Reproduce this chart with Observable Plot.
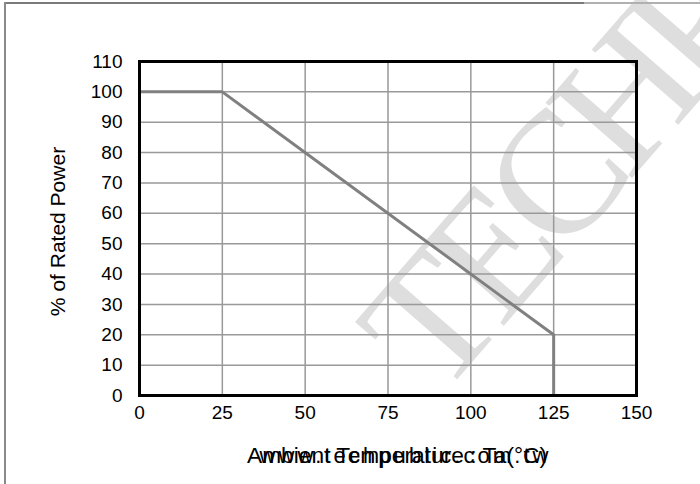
<!DOCTYPE html>
<html>
<head>
<meta charset="utf-8">
<script src="https://cdn.jsdelivr.net/npm/d3@7"></script>
<script src="https://cdn.jsdelivr.net/npm/@observablehq/plot@0.6"></script>
<style>
  html, body { margin: 0; padding: 0; background: #fff; }
  #wrap { position: relative; width: 700px; height: 484px; overflow: hidden; }
  .edge { position: absolute; }
</style>
</head>
<body>
<div id="wrap">
  <div class="edge" style="left:4px;top:2px;width:580px;height:2px;background:#7a7a7a"></div>
  <div class="edge" style="left:584px;top:2px;width:116px;height:2px;background:#b0b0b0"></div>
  <div class="edge" style="left:4px;top:2px;width:2px;height:482px;background:#8a8a8a"></div>
</div>
<script>
// Data
const temperature = [0, 25, 125, 125];        // Ambient temperature (°C)
const ratedPower  = [100, 100, 20, 0];        // % of rated power
const xTicks = [0, 25, 50, 75, 100, 125, 150];
const yTicks = [0, 10, 20, 30, 40, 50, 60, 70, 80, 90, 100, 110];
const xTitle = "Ambient Temperature : Ta(°C)";
const yTitle = "% of Rated Power";
const siteText = "www.techpublic.com.tw";
const watermark = "TECHPUBLIC";

const data = temperature.map((t, i) => ({t, p: ratedPower[i]}));

const chart = Plot.plot({
  width: 700,
  height: 484,
  marginLeft: 139,
  marginRight: 64,
  marginTop: 61,
  marginBottom: 89,
  style: {fontFamily: "'Liberation Sans', Arial, sans-serif", background: "transparent", overflow: "visible"},
  x: {domain: [0, 150]},
  y: {domain: [0, 110]},
  marks: [
    Plot.text([watermark], {
      text: d => d, frameAnchor: "top-left", dx: 300, dy: 338, rotate: -49,
      textAnchor: "start", lineAnchor: "bottom",
      fontFamily: "'Liberation Serif', 'Times New Roman', serif",
      fontSize: 175, fill: "#dedede", className: "wm"
    }),
    Plot.gridX(xTicks, {stroke: "#999", strokeOpacity: 1, strokeWidth: 1.5}),
    Plot.gridY(yTicks, {stroke: "#999", strokeOpacity: 1, strokeWidth: 1.5}),
    Plot.line(data, {x: "t", y: "p", stroke: "#808080", strokeWidth: 3}),
    Plot.frame({stroke: "#000", strokeWidth: 3}),
    Plot.axisX(xTicks, {tickSize: 0, tickPadding: 10, fontSize: 19, fill: "#000", label: null}),
    Plot.axisY(yTicks, {tickSize: 0, tickPadding: 17, fontSize: 19, fill: "#000", label: null}),
    Plot.text([yTitle], {text: d => d, frameAnchor: "left", dx: -81, dy: 3, rotate: -90,
      textAnchor: "middle", fontSize: 21, fill: "#000", lineAnchor: "middle"}),
    Plot.text([xTitle], {text: d => d, frameAnchor: "bottom", dx: 9, dy: 60,
      textAnchor: "middle", fontSize: 22, fill: "#000", lineAnchor: "middle", className: "xtitle"}),
    Plot.text([siteText], {text: d => d, frameAnchor: "bottom", dx: 16, dy: 60,
      textAnchor: "middle", fontSize: 22, fill: "#000", lineAnchor: "middle", className: "site"})
  ]
});
d3.select(chart).selectAll(".wm text").style("letter-spacing", "-14px");
d3.select(chart).selectAll(".xtitle text").attr("textLength", 300).attr("lengthAdjust", "spacingAndGlyphs");
d3.select(chart).selectAll(".site text").attr("textLength", 289).attr("lengthAdjust", "spacing");
chart.style.position = "absolute";
chart.style.left = "0px";
chart.style.top = "0px";
document.getElementById("wrap").prepend(chart);
</script>
</body>
</html>
